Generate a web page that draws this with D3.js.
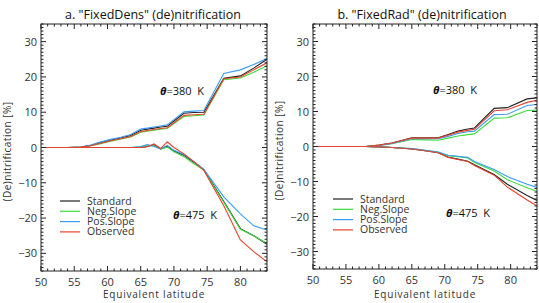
<!DOCTYPE html>
<html lang="en">
<head>
<meta charset="UTF-8">
<title>(De)nitrification</title>
<script src="https://d3js.org/d3.v7.min.js"></script>
<style>
  body { margin: 0; background: #fff; }
  text { font-family: "Open Sans", "DejaVu Sans", sans-serif; fill: #333; }
</style>
</head>
<body>
<div id="chart"></div>
<script>
// series names and colours
const seriesNames = ["Standard", "Neg.Slope", "Pos.Slope", "Observed"];
const seriesColors = ["#222222", "#3ddc3d", "#3b9cf2", "#e8432e"];
const drawOrder = [0, 1, 2, 3];

// panel a: "FixedDens"
const latA = [50, 54, 56, 57.5, 59, 60.5, 62, 63.5, 65, 66, 67, 68, 69, 70, 71.5, 73, 74.5, 77.5, 80, 82, 84];
const a380Standard = [0, 0, 0.1, 0.6, 1.4, 2.1, 2.7, 3.4, 4.9, 5.2, 5.5, 5.8, 6.0, 7.5, 9.7, 9.9, 10.0, 19.6, 20.3, 22.5, 25.0];
const a380Neg      = [0, 0, 0.1, 0.5, 1.1, 1.8, 2.4, 3.0, 4.3, 4.6, 4.9, 5.2, 5.4, 6.8, 8.8, 9.0, 9.2, 19.2, 19.7, 21.3, 23.2];
const a380Pos      = [0, 0, 0.1, 0.7, 1.6, 2.3, 2.9, 3.7, 5.2, 5.5, 5.8, 6.1, 6.4, 7.9, 10.1, 10.3, 10.5, 21.0, 22.0, 23.5, 25.2];
const a380Obs      = [0, 0, 0.1, 0.5, 1.2, 1.9, 2.5, 3.1, 4.5, 4.8, 5.1, 5.4, 5.6, 7.0, 9.1, 9.3, 9.4, 19.5, 20.0, 22.0, 24.0];
const a475Standard = [0, 0, 0, 0, 0, 0, 0, 0, 0, 0.3, 0.8, -0.4, 0.4, -1.0, -2.2, -4.2, -6.3, -15.3, -23.0, -25.0, -27.4];
const a475Neg      = [0, 0, 0, 0, 0, 0, 0, 0, 0.2, 0.5, 0.5, -0.5, 0.1, -1.2, -2.6, -4.6, -6.4, -15.5, -23.2, -25.0, -27.2];
const a475Pos      = [0, 0, 0, 0, 0, 0, 0, 0, 0.3, 0.8, 0.3, -0.4, 0.6, -0.8, -2.0, -4.0, -6.2, -14.0, -18.8, -22.2, -23.4];
const a475Obs      = [0, 0, 0, 0, 0, 0, 0, 0, 0, 0.2, 1.0, -0.3, 1.6, 0, -1.8, -4.0, -6.5, -16.5, -26.2, -29.5, -32.4];

// panel b: "FixedRad"
const latB = [50, 54, 58, 60, 62, 65, 67, 69, 70.5, 72, 73.5, 74.5, 77.5, 79.5, 82.5, 84];
const b380Standard = [0, 0, 0, 0.4, 1.0, 2.5, 2.5, 2.5, 3.4, 4.4, 5.0, 5.3, 10.9, 11.1, 13.6, 13.9];
const b380Neg      = [0, 0, 0, 0.3, 0.8, 2.0, 1.9, 1.8, 2.4, 3.0, 3.4, 3.6, 8.1, 8.2, 10.3, 10.4];
const b380Pos      = [0, 0, 0, 0.3, 0.9, 2.2, 2.2, 2.2, 2.9, 3.7, 4.2, 4.4, 9.1, 9.2, 11.7, 12.0];
const b380Obs      = [0, 0, 0, 0.4, 1.0, 2.4, 2.4, 2.4, 3.2, 4.1, 4.6, 4.9, 10.2, 10.5, 12.6, 13.2];
const b475Standard = [0, 0, 0, -0.1, -0.3, -0.7, -1.2, -1.8, -3.0, -3.6, -4.2, -5.2, -8.0, -10.8, -14.0, -15.4];
const b475Neg      = [0, 0, 0, -0.1, -0.3, -0.6, -1.1, -1.6, -2.6, -2.9, -3.3, -4.6, -7.0, -9.5, -11.8, -12.8];
const b475Pos      = [0, 0, 0, -0.1, -0.3, -0.6, -1.1, -1.6, -2.5, -2.8, -3.1, -4.3, -6.6, -8.6, -10.8, -11.7];
const b475Obs      = [0, 0, 0, -0.1, -0.3, -0.7, -1.2, -1.8, -3.1, -3.7, -4.3, -5.4, -8.2, -11.6, -15.3, -17.0];

const xTicks = [50, 55, 60, 65, 70, 75, 80];
const yTicks = [-30, -20, -10, 0, 10, 20, 30];

const svg = d3.select("#chart").append("svg")
    .attr("width", 539)
    .attr("height", 303);

function drawPanel(p) {
    const x = d3.scaleLinear().domain([50, 84]).range([p.left, p.right]);
    const y = d3.scaleLinear().domain([-35, 35]).range([p.bottom, p.top]);
    const g = svg.append("g");

    // clip for data lines
    const clipId = "clip" + p.id;
    g.append("clipPath").attr("id", clipId)
        .append("rect")
        .attr("x", p.left).attr("y", p.top)
        .attr("width", p.right - p.left).attr("height", p.bottom - p.top);

    const line = d3.line()
        .x((d, i) => x(p.lats[i]))
        .y(d => y(d));

    const lines = g.append("g").attr("clip-path", "url(#" + clipId + ")");
    [p.upper, p.lower].forEach(set => {
        drawOrder.forEach(k => {
            lines.append("path")
                .attr("d", line(set[k]))
                .attr("fill", "none")
                .attr("stroke", seriesColors[k])
                .attr("stroke-width", 1.1);
        });
    });

    // box
    g.append("rect")
        .attr("x", p.left).attr("y", p.top)
        .attr("width", p.right - p.left).attr("height", p.bottom - p.top)
        .attr("fill", "none").attr("stroke", "#222").attr("stroke-width", 1);

    // inward ticks on all four sides (IDL style)
    const minorX = d3.range(50, 85, 1);
    const minorY = d3.range(-35, 36, 1);
    const tk = g.append("g").attr("stroke", "#222").attr("stroke-width", 1);
    minorX.forEach(v => {
        const len = v % 5 === 0 ? 5 : 2.5;
        tk.append("line").attr("x1", x(v)).attr("x2", x(v)).attr("y1", p.bottom).attr("y2", p.bottom - len);
        tk.append("line").attr("x1", x(v)).attr("x2", x(v)).attr("y1", p.top).attr("y2", p.top + len);
    });
    minorY.forEach(v => {
        const len = v % 10 === 0 ? 5 : 2.5;
        tk.append("line").attr("y1", y(v)).attr("y2", y(v)).attr("x1", p.left).attr("x2", p.left + len);
        tk.append("line").attr("y1", y(v)).attr("y2", y(v)).attr("x1", p.right).attr("x2", p.right - len);
    });

    // tick labels
    g.selectAll(".xl").data(xTicks).enter().append("text")
        .attr("x", d => x(d)).attr("y", p.bottom + 15)
        .attr("text-anchor", "middle")
        .style("font-size", "11px")
        .text(d => d);
    g.selectAll(".yl").data(yTicks).enter().append("text")
        .attr("x", p.left - 4).attr("y", d => y(d) + 4)
        .attr("text-anchor", "end")
        .style("font-size", "11px")
        .text(d => d < 0 ? "\u2212" + Math.abs(d) : d);

    // titles
    g.append("text")
        .attr("x", p.titleX).attr("y", 19)
        .attr("text-anchor", "middle")
        .style("font-size", "12.5px")
        .style("fill", "#111")
        .text(p.title);
    g.append("text")
        .attr("x", (p.left + p.right) / 2).attr("y", 298)
        .attr("text-anchor", "middle")
        .style("font-size", "10px")
        .style("letter-spacing", "0.8px")
        .text("Equivalent latitude");
    g.append("text")
        .attr("transform", "translate(" + (p.left - 30) + "," + (y(0) + 4) + ") rotate(-90)")
        .attr("text-anchor", "middle")
        .style("font-size", "10px")
        .style("letter-spacing", "0.5px")
        .text("(De)nitrification [%]");

    // theta annotations
    [[p.ann380, "=380  K"], [p.ann475, "=475  K"]].forEach(a => {
        const t = g.append("text")
            .attr("x", a[0][0]).attr("y", a[0][1])
            .style("font-size", "11px")
            .style("white-space", "pre")
            .style("fill", "#111");
        t.append("tspan").style("font-style", "italic").style("font-weight", "bold").text("\u03b8");
        t.append("tspan").text(a[1]);
    });

    // legend
    const lg = g.append("g");
    seriesNames.forEach((name, k) => {
        const ly = p.legendY + k * 10.3;
        lg.append("line")
            .attr("x1", p.legendX).attr("x2", p.legendX + 20)
            .attr("y1", ly).attr("y2", ly)
            .attr("stroke", seriesColors[k]).attr("stroke-width", 1.2);
        lg.append("text")
            .attr("x", p.legendX + 27).attr("y", ly + 3.5)
            .style("font-size", "10.5px")
            .text(name);
    });
}

drawPanel({
    id: "a", left: 41, right: 267, top: 24, bottom: 271,
    lats: latA,
    upper: [a380Standard, a380Neg, a380Pos, a380Obs],
    lower: [a475Standard, a475Neg, a475Pos, a475Obs],
    title: "a. \"FixedDens\" (de)nitrification", titleX: 153,
    ann380: [160, 95], ann475: [173, 219],
    legendX: 60, legendY: 201
});

drawPanel({
    id: "b", left: 313, right: 537, top: 24, bottom: 269,
    lats: latB,
    upper: [b380Standard, b380Neg, b380Pos, b380Obs],
    lower: [b475Standard, b475Neg, b475Pos, b475Obs],
    title: "b. \"FixedRad\" (de)nitrification", titleX: 422,
    ann380: [433, 94], ann475: [446, 217],
    legendX: 333, legendY: 199
});
</script>
</body>
</html>
